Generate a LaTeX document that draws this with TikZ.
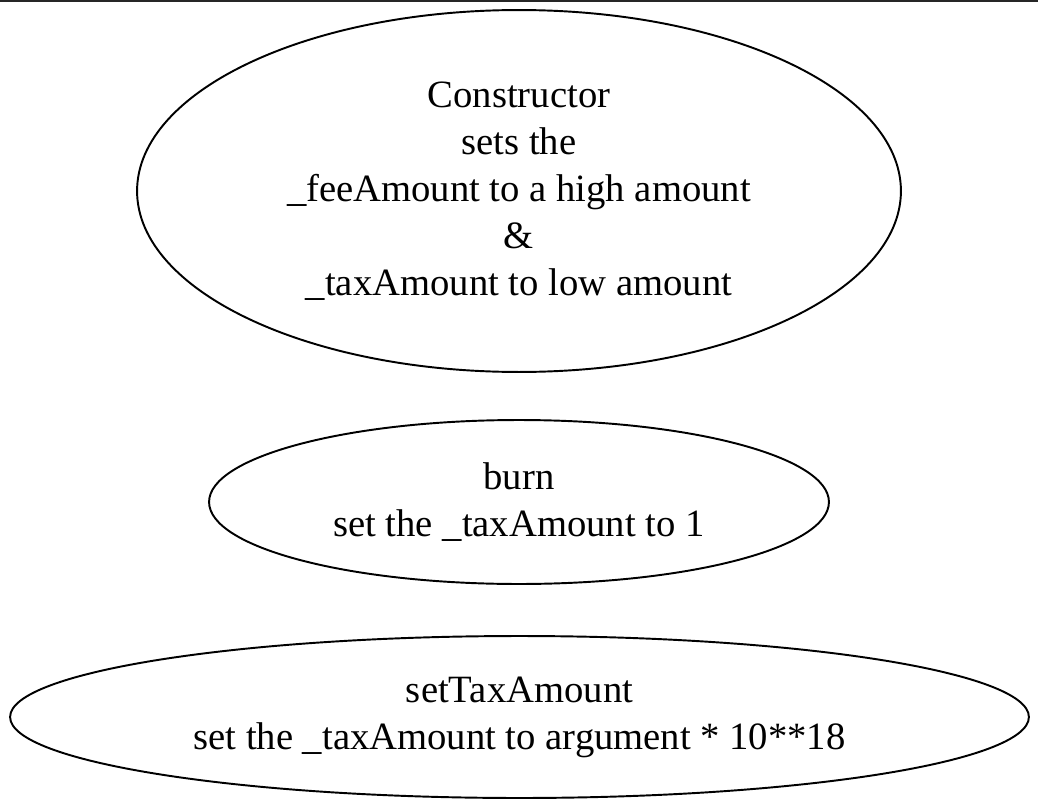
\documentclass[tikz,border=0pt]{standalone}
\usepackage{fontspec}
\setmainfont{Liberation Serif}
\usetikzlibrary{shapes.geometric}

\begin{document}
\begin{tikzpicture}[x=0.02cm, y=-0.02cm,
        func/.style={ellipse, draw, line width=1.1pt, inner sep=0pt, align=center,
            font=\fontsize{22}{26.7}\selectfont}]
        \useasboundingbox (0, 0) rectangle (1038, 808);
        \draw[line width=1.1pt, black!85] (0, 1) -- (1038, 1);

        % Nodes
        \node (ctor) [func, minimum width=15.28cm, minimum height=7.24cm] at (519, 191)
            {Constructor\\ sets the\\\_feeAmount to a high amount\\\&\\\_taxAmount to low amount};
        \node (burn) [func, minimum width=12.4cm, minimum height=3.28cm] at (519, 502)
            {burn\\set the \_taxAmount to 1};
        \node (settax) [func, minimum width=20.38cm, minimum height=3.24cm] at (519.5, 717)
            {setTaxAmount\\set the \_taxAmount to argument * 10**18};
    \end{tikzpicture}
\end{document}
